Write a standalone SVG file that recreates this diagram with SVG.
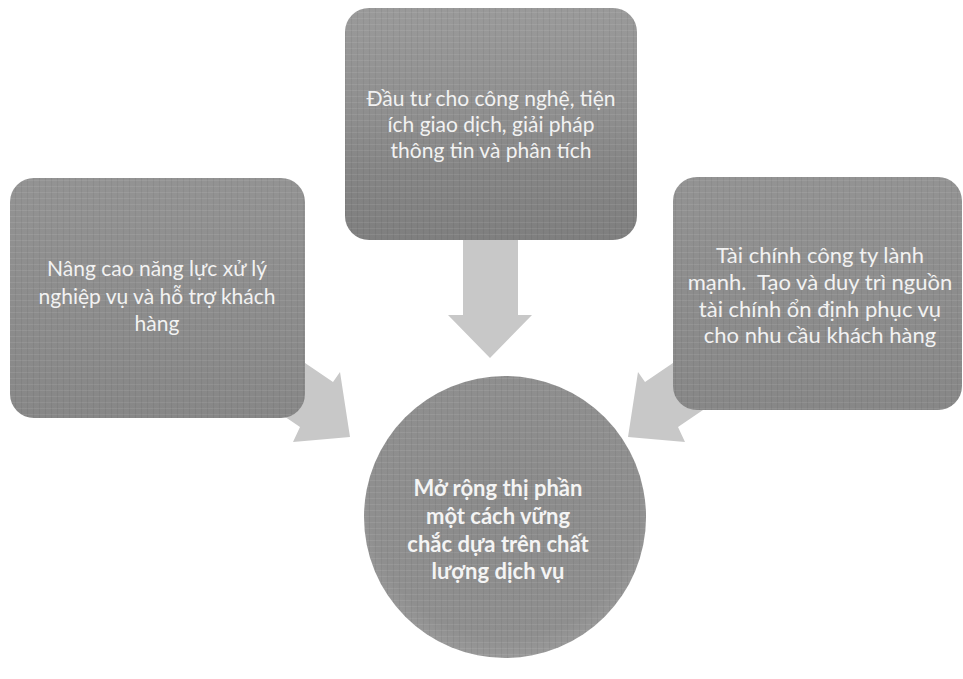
<svg xmlns="http://www.w3.org/2000/svg" width="963" height="679" viewBox="0 0 963 679">
<defs>
<linearGradient id="gTop" x1="0" y1="0" x2="0" y2="1">
<stop offset="0" stop-color="#9a9a9a"/>
<stop offset="0.45" stop-color="#8f8f8f"/>
<stop offset="0.7" stop-color="#858585"/>
<stop offset="1" stop-color="#7f7f7f"/>
</linearGradient>
<linearGradient id="gBox" x1="0" y1="0" x2="0" y2="1">
<stop offset="0" stop-color="#939393"/>
<stop offset="1" stop-color="#878787"/>
</linearGradient>
<radialGradient id="gCirc" cx="0.5" cy="0.45" r="0.6">
<stop offset="0" stop-color="#8a8a8a"/>
<stop offset="0.8" stop-color="#8f8f8f"/>
<stop offset="1" stop-color="#a0a0a0"/>
</radialGradient>
<pattern id="weave" width="6" height="6" patternUnits="userSpaceOnUse">
<rect width="6" height="6" fill="none"/>
<line x1="0" y1="0.5" x2="6" y2="0.5" stroke="#ffffff" stroke-opacity="0.08"/>
<line x1="3.5" y1="0" x2="3.5" y2="6" stroke="#000000" stroke-opacity="0.05"/>
</pattern>
</defs>
<style>
.arrow{fill:#c8c8c8;}
.box{stroke:none;}
.t{font-family:Lato,"Noto Sans","Liberation Sans",sans-serif;font-size:21px;fill:#f2f2f2;text-anchor:middle;}
.tr{font-size:22px;}
.tb{font-family:Lato,"Noto Sans","Liberation Sans",sans-serif;font-size:22px;font-weight:bold;fill:#f4f4f4;text-anchor:middle;}
</style>
<rect width="963" height="679" fill="#ffffff"/>
<g id="connectors">
<polygon class="arrow" points="463,238 518,238 518,315 532,315 490,358 448,315 463,315"/>
<polygon class="arrow" points="283,348 333,382 340,372 350,437 293,442 300,427 250,393"/>
<polygon class="arrow" points="695,348 645,382 638,372 628,437 685,442 678,427 728,393"/>
</g>
<g id="node-top">
<rect class="box" x="345" y="8" width="292" height="232" rx="24" fill="url(#gTop)"/>
<rect x="345" y="8" width="292" height="232" rx="24" fill="url(#weave)"/>
<text class="t" x="491" y="106">Đầu tư cho công nghệ, tiện</text>
<text class="t" x="491" y="132">ích giao dịch, giải pháp</text>
<text class="t" x="491" y="158">thông tin và phân tích</text>
</g>
<g id="node-left">
<rect class="box" x="10" y="178" width="295" height="240" rx="24" fill="url(#gBox)"/>
<rect x="10" y="178" width="295" height="240" rx="24" fill="url(#weave)"/>
<text class="t" x="157" y="276">Nâng cao năng lực xử lý</text>
<text class="t" x="157" y="304">nghiệp vụ và hỗ trợ khách</text>
<text class="t" x="157" y="331">hàng</text>
</g>
<g id="node-right">
<rect class="box" x="673" y="177" width="289" height="233" rx="24" fill="url(#gBox)"/>
<rect x="673" y="177" width="289" height="233" rx="24" fill="url(#weave)"/>
<text class="t tr" x="820" y="263">Tài chính công ty lành</text>
<text class="t tr" x="820" y="290" xml:space="preserve">mạnh.  Tạo và duy trì nguồn</text>
<text class="t tr" x="820" y="317">tài chính ổn định phục vụ</text>
<text class="t tr" x="820" y="343">cho nhu cầu khách hàng</text>
</g>
<g id="node-center">
<circle cx="505" cy="517" r="141" fill="url(#gCirc)"/>
<circle cx="505" cy="517" r="141" fill="url(#weave)"/>
<text class="tb" x="498" y="496">Mở rộng thị phần</text>
<text class="tb" x="498" y="524">một cách vững</text>
<text class="tb" x="498" y="552">chắc dựa trên chất</text>
<text class="tb" x="498" y="579">lượng dịch vụ</text>
</g>
</svg>
